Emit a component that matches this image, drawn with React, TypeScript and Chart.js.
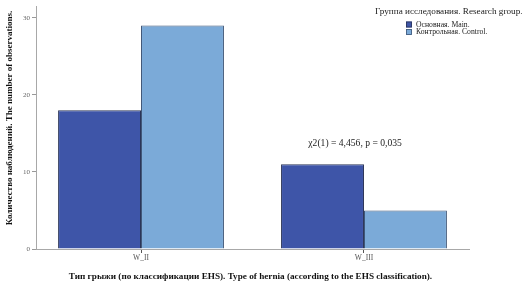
import React, { useEffect, useRef } from "react";
import { Chart, registerables } from "chart.js";

Chart.register(...registerables);

const categories = ["W_II", "W_III"];
const seriesLabels = ["Основная. Main.", "Контрольная. Control."];
const mainValues = [18, 11];
const controlValues = [29, 5];
const yTickValues = [0, 10, 20, 30];
const legendTitle = "Группа исследования. Research group.";
const xTitle =
  "Тип грыжи (по классификации EHS). Type of hernia (according to the EHS classification).";
const yTitle = "Количество наблюдений. The number of observations.";
const annotationText = "χ2(1) = 4,456, p = 0,035";
const annotationCategory = [0.96];
const annotationValue = [13.7];

const colors = ["#3E55A8", "#7BAAD8"];
const borderColors = ["#2B3557", "#3F5677"];
const FONT = '"Liberation Serif", "DejaVu Serif", serif';

const textPlugin = {
  id: "textPlugin",
  afterDraw(chart: any) {
    const ctx = chart.ctx as CanvasRenderingContext2D;
    const area = chart.chartArea;
    const xs = chart.scales.x;
    const ys = chart.scales.y;
    ctx.save();
    ctx.fillStyle = "#111";
    // x title
    ctx.font = `bold 9.2px ${FONT}`;
    ctx.textAlign = "center";
    ctx.textBaseline = "middle";
    ctx.fillText(xTitle, (area.left + area.right) / 2 - 2, 277);
    // y title
    ctx.save();
    ctx.font = `bold 9px ${FONT}`;
    ctx.translate(10, 118);
    ctx.rotate(-Math.PI / 2);
    ctx.fillText(yTitle, 0, 0);
    ctx.restore();
    // annotation
    ctx.font = `9.6px ${FONT}`;
    ctx.fillStyle = "#222";
    ctx.fillText(
      annotationText,
      xs.getPixelForValue(annotationCategory[0]),
      ys.getPixelForValue(annotationValue[0])
    );
    // legend
    ctx.font = `9.2px ${FONT}`;
    ctx.textAlign = "left";
    ctx.fillText(legendTitle, 375, 12);
    ctx.font = `7.7px ${FONT}`;
    const ds = chart.data.datasets;
    ds.forEach((d: any, i: number) => {
      const yy = 24.5 + i * 7.5;
      ctx.fillStyle = d.backgroundColor;
      ctx.fillRect(406, yy - 3, 6, 6);
      ctx.strokeStyle = d.borderColor;
      ctx.lineWidth = 0.8;
      ctx.strokeRect(406.5, yy - 2.5, 5, 5);
      ctx.fillStyle = "#222";
      ctx.fillText(d.label, 416, yy);
    });
    ctx.restore();
  },
};

export default function App() {
  const ref = useRef<HTMLCanvasElement | null>(null);
  useEffect(() => {
    if (!ref.current) return;
    const chart = new Chart(ref.current, {
      type: "bar",
      data: {
        datasets: [
          {
            label: seriesLabels[0],
            data: mainValues.map((v, i) => ({ x: i, y: v })),
            backgroundColor: colors[0],
            borderColor: borderColors[0],
            borderWidth: 1,
          },
          {
            label: seriesLabels[1],
            data: controlValues.map((v, i) => ({ x: i, y: v })),
            backgroundColor: colors[1],
            borderColor: borderColors[1],
            borderWidth: 1,
          },
        ],
      },
      options: {
        responsive: false,
        animation: false,
        events: [],
        layout: { padding: { top: 3, right: 62, left: 0, bottom: 0 } },
        datasets: { bar: { categoryPercentage: 0.744, barPercentage: 1 } },
        plugins: { legend: { display: false }, tooltip: { enabled: false } },
        scales: {
          x: {
            type: "linear",
            min: -0.471,
            max: 1.471,
            offset: false,
            afterFit: (s: any) => {
              s.height = 41;
            },
            afterBuildTicks: (s: any) => {
              s.ticks = categories.map((_, i) => ({ value: i }));
            },
            ticks: {
              callback: (v: any) => categories[Math.round(Number(v))] ?? "",
              font: { family: FONT, size: 7.5 },
              color: "#555",
              padding: 1,
              maxRotation: 0,
              autoSkip: false,
            },
            grid: {
              offset: false,
              drawOnChartArea: false,
              drawTicks: true,
              tickLength: 4,
              color: "#555",
            },
            border: { color: "#A8A8A8", width: 1 },
          },
          y: {
            type: "linear",
            min: 0,
            max: 31.5,
            afterFit: (s: any) => {
              s.width = 36;
            },
            afterBuildTicks: (s: any) => {
              s.ticks = yTickValues.map((v) => ({ value: v }));
            },
            ticks: {
              font: { family: FONT, size: 7 },
              color: "#666",
              padding: 2,
            },
            grid: {
              drawOnChartArea: false,
              drawTicks: true,
              tickLength: 4,
              color: "#999",
            },
            border: { color: "#A8A8A8", width: 1 },
          },
        },
      },
      plugins: [textPlugin],
    } as any);
    return () => chart.destroy();
  }, []);
  return (
    <div
      style={{
        position: "fixed",
        left: 0,
        top: 0,
        width: 531,
        height: 290,
        background: "#fff",
      }}
    >
      <canvas ref={ref} width={531} height={290} style={{ display: "block" }} />
    </div>
  );
}
